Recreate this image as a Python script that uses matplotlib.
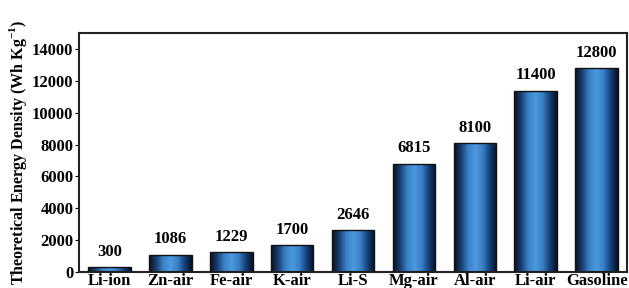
import numpy as np
import matplotlib
matplotlib.use("Agg")
import matplotlib.pyplot as plt
from matplotlib.colors import LinearSegmentedColormap

# battery chemistries vs theoretical energy density
systems = ["Li-ion", "Zn-air", "Fe-air", "K-air", "Li-S",
           "Mg-air", "Al-air", "Li-air", "Gasoline"]
energy = [300, 1086, 1229, 1700, 2646, 6815, 8100, 11400, 12800]
yticks = [0, 2000, 4000, 6000, 8000, 10000, 12000, 14000]

plt.rcParams['font.family'] = ['Liberation Serif', 'DejaVu Serif']
plt.rcParams['font.weight'] = 'bold'
plt.rcParams['mathtext.fontset'] = 'custom'
plt.rcParams['mathtext.rm'] = 'Liberation Serif:bold'
plt.rcParams['mathtext.bf'] = 'Liberation Serif:bold'

fig = plt.figure(figsize=(6.29, 2.88), dpi=100)
ax = fig.add_axes([0.1256, 0.056, 0.8714, 0.828])

# cylinder-like shading across each bar
shade = LinearSegmentedColormap.from_list(
    "bar", ["#06101f", "#163f75", "#3a82c8", "#4c98de", "#3a80c6", "#163f75", "#06101f"])
grad = np.linspace(0, 1, 256).reshape(1, -1)

width = 0.7
x = np.arange(len(systems))
bars = ax.bar(x, energy, width=width, color='none', edgecolor='#111111', linewidth=1.0, zorder=3)
for b in bars:
    x0, y0 = b.get_x(), b.get_y()
    w, h = b.get_width(), b.get_height()
    im = ax.imshow(grad, extent=[x0, x0 + w, y0, y0 + h], aspect='auto',
                   cmap=shade, zorder=2, origin='lower')
    im.set_clip_path(b)

for xi, v in zip(x, energy):
    ax.text(xi, v + 450, str(v), ha='center', va='bottom', fontsize=12, fontweight='bold')

ax.set_xlim(-0.5, 8.5)
ax.set_ylim(0, 15000)
ax.set_yticks(yticks)
ax.set_xticks(x)
ax.set_xticklabels(systems, fontsize=12, fontweight='bold')
ax.tick_params(axis='y', direction='out', length=3, labelsize=12, pad=1)
ax.tick_params(axis='x', direction='in', length=2, pad=1)
for lbl in ax.get_yticklabels():
    lbl.set_fontweight('bold')
for s in ax.spines.values():
    s.set_linewidth(1.5)
    s.set_color('#222222')

ax.set_ylabel(r"Theoretical Energy Density (Wh Kg$^{-1}$)", fontsize=11.5, fontweight='bold', labelpad=2)

fig.savefig("out.png", dpi=100)
